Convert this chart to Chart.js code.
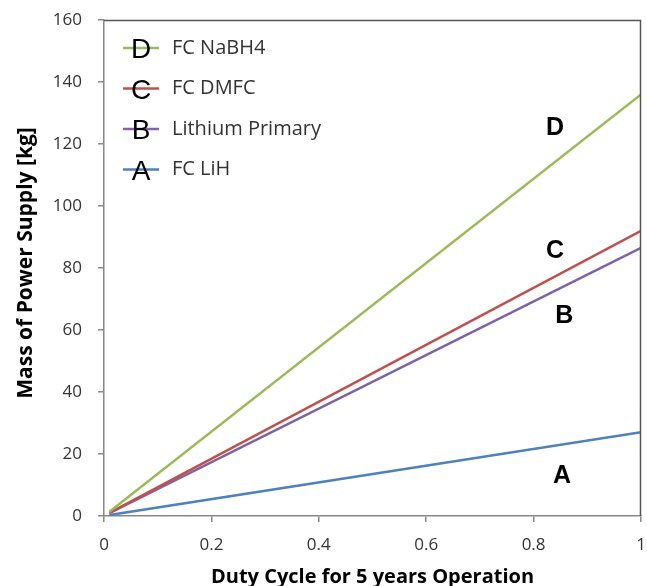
<!DOCTYPE html>
<html><head><meta charset="utf-8">
<script src="https://cdn.jsdelivr.net/npm/chart.js@4"></script>
<style>html,body{margin:0;padding:0;background:#fff;}#wrap{width:647px;height:586px;}</style>
</head><body><div id="wrap"><canvas id="c" width="647" height="586"></canvas></div>
<script>
const dutyCycle = [0.01, 1];
const seriesNames = ['FC NaBH4', 'FC DMFC', 'Lithium Primary', 'FC LiH'];
const seriesLetters = ['D', 'C', 'B', 'A'];
const massNaBH4 = [1.4, 136];
const massDMFC = [1.0, 92];
const massLithium = [0.9, 86.5];
const massLiH = [0.3, 27];
const seriesColors = ['#9BBB59', '#C0504D', '#8064A2', '#4F81BD'];
const letterLabelX = [0.84, 0.84, 0.857, 0.853];
const letterLabelY = [125, 85.5, 64.5, 12.8];
const xTicks = [0, 0.2, 0.4, 0.6, 0.8, 1];
const yTicks = [0, 20, 40, 60, 80, 100, 120, 140, 160];
const xTitle = 'Duty Cycle for 5 years Operation';
const yTitle = 'Mass of Power Supply [kg]';

const seriesValues = [massNaBH4, massDMFC, massLithium, massLiH];
const datasets = seriesValues.map((vals, i) => ({
  label: seriesNames[i],
  data: vals.map((v, j) => ({x: dutyCycle[j], y: v})),
  borderColor: seriesColors[i],
  backgroundColor: seriesColors[i],
  borderWidth: 2.5,
  pointRadius: 0,
  tension: 0
}));

const FONT = '"Open Sans", "Liberation Sans", sans-serif';

const extras = {
  id: 'extras',
  afterDatasetsDraw(chart) {
    const ctx = chart.ctx, a = chart.chartArea;
    const xs = chart.scales.x, ys = chart.scales.y;
    ctx.save();
    // frame top/right
    ctx.strokeStyle = '#555';
    ctx.lineWidth = 1.5;
    ctx.beginPath();
    ctx.moveTo(a.left, a.top + 0.5);
    ctx.lineTo(a.right - 0.5, a.top + 0.5);
    ctx.lineTo(a.right - 0.5, a.bottom);
    ctx.stroke();
    // in-chart letters
    ctx.fillStyle = '#000';
    ctx.font = 'bold 25px "Liberation Sans", Arial, sans-serif';
    ctx.textAlign = 'center';
    ctx.textBaseline = 'middle';
    seriesLetters.forEach((L, i) => {
      ctx.fillText(L, xs.getPixelForValue(letterLabelX[i]), ys.getPixelForValue(letterLabelY[i]));
    });
    // legend
    const lx0 = a.left + 19, lx1 = a.left + 55, tx = a.left + 68;
    seriesNames.forEach((name, i) => {
      const y = a.top + 28 + i * 40.5;
      ctx.strokeStyle = seriesColors[i];
      ctx.lineWidth = 2.5;
      ctx.beginPath(); ctx.moveTo(lx0, y); ctx.lineTo(lx1, y); ctx.stroke();
      ctx.fillStyle = '#000';
      ctx.font = '28px "Liberation Sans", Arial, sans-serif';
      ctx.textAlign = 'center';
      ctx.textBaseline = 'alphabetic';
      ctx.fillText(seriesLetters[i], (lx0 + lx1) / 2, y + 10);
      ctx.fillStyle = '#333';
      ctx.font = '20px ' + FONT;
      ctx.textAlign = 'left';
      ctx.textBaseline = 'middle';
      ctx.fillText(name, tx, y);
    });
    // axis titles
    ctx.fillStyle = '#000';
    ctx.textAlign = 'center';
    ctx.textBaseline = 'alphabetic';
    ctx.font = 'bold 20px ' + FONT;
    ctx.fillText(xTitle, (a.left + a.right) / 2, 583);
    ctx.save();
    ctx.translate(32, 263);
    ctx.rotate(-Math.PI / 2);
    ctx.font = 'bold 21px ' + FONT;
    ctx.fillText(yTitle, 0, 0);
    ctx.restore();
    ctx.restore();
  }
};

new Chart(document.getElementById('c'), {
  type: 'line',
  data: { datasets },
  options: {
    responsive: false,
    animation: false,
    layout: { padding: { top: 20, right: 6, left: 0, bottom: 0 } },
    plugins: { legend: { display: false }, tooltip: { enabled: false } },
    scales: {
      x: {
        type: 'linear', min: 0, max: 1,
        afterBuildTicks(s) { s.ticks = xTicks.map(v => ({value: v})); },
        afterFit(s) { s.height = 70; s.paddingLeft = 0; s.paddingRight = 0; },
        ticks: { color: '#333', font: { size: 17, family: FONT }, padding: 13, maxRotation: 0,
                 callback: v => String(v) },
        grid: { drawOnChartArea: false, tickLength: 6, color: '#888', lineWidth: 1.5 },
        border: { color: '#888', width: 1.5 }
      },
      y: {
        type: 'linear', min: 0, max: 160,
        afterBuildTicks(s) { s.ticks = yTicks.map(v => ({value: v})); },
        afterFit(s) { s.width = 104; s.paddingTop = 0; s.paddingBottom = 0; },
        ticks: { color: '#333', font: { size: 17, family: FONT }, padding: 16 },
        grid: { drawOnChartArea: false, tickLength: 6, color: '#888', lineWidth: 1.5 },
        border: { color: '#888', width: 1.5 }
      }
    }
  },
  plugins: [extras]
});
</script></body></html>
